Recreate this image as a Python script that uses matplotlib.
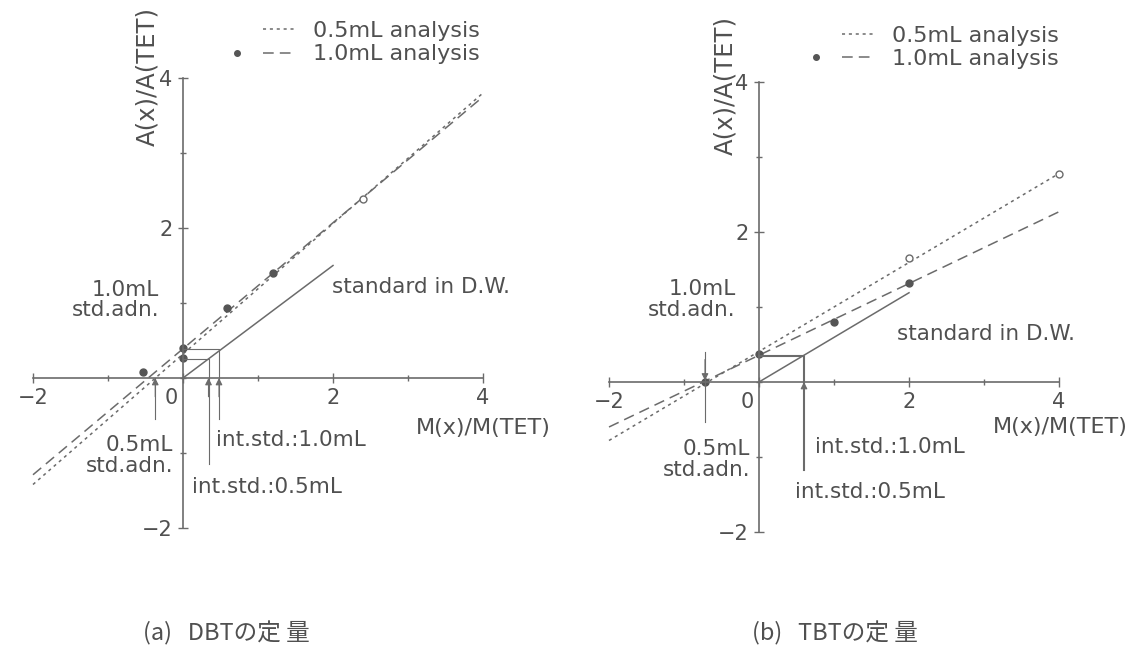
import matplotlib.pyplot as plt
from matplotlib.lines import Line2D
from matplotlib.legend_handler import HandlerTuple
from matplotlib.transforms import ScaledTranslation

plt.rcParams['font.family'] = ['DejaVu Sans', 'Noto Sans CJK JP']

# (a) DBT
a_std_x = [0, 2.0]          # standard in D.W.
a_std_y = [0, 1.50]
a_half_x = [-2, 4]          # 0.5mL analysis
a_half_y = [-1.42, 3.80]
a_full_x = [-2, 4]          # 1.0mL analysis
a_full_y = [-1.29, 3.75]
a_open_x = [2.4]
a_open_y = [2.39]
a_dot_x = [0, 0, 0.59, 1.2, -0.53]
a_dot_y = [0.40, 0.27, 0.93, 1.40, 0.08]
a_adn_x = -0.37
a_int_x = [0.48, 0.34]      # int.std.: 1.0mL, 0.5mL
a_int_y = [0.39, 0.25]
a_int_bot = [-0.55, -1.15]

# (b) TBT
b_std_x = [0, 2.0]
b_std_y = [0, 1.19]
b_half_x = [-2, 4]
b_half_y = [-0.78, 2.78]
b_full_x = [-2, 4]
b_full_y = [-0.60, 2.27]
b_open_x = [2, 4]
b_open_y = [1.65, 2.78]
b_dot_x = [0, 1.0, 2.0, -0.72]
b_dot_y = [0.38, 0.80, 1.32, 0.0]
b_adn_x = -0.72
b_int_x = [0.6]
b_int_y = [0.35]
b_int_bot = [-1.17]

ticks = [-2, 0, 2, 4]
tick_labels = ['\u22122', '0', '2', '4']

LC = '#6b6b6b'
TC = '#505050'
FS = 15.5
DOT = (0, (2, 2.5))
DASH = (0, (7, 4))

fig = plt.figure(figsize=(11.38, 6.56), dpi=100)
W, H = 1138, 656


def make_axes(ox, oy):
    # 75 px per unit on both axes, origin at pixel (ox, oy)
    x0, x1, y0, y1 = -2.2, 4.6, -2.3, 5.0
    left = ox + x0 * 75
    ax = fig.add_axes([left / W, 1 - (oy - y0 * 75) / H,
                       (x1 - x0) * 75 / W, (y1 - y0) * 75 / H])
    ax.set_xlim(x0, x1)
    ax.set_ylim(y0, y1)
    ax.patch.set_alpha(0)
    for s in ['top', 'right']:
        ax.spines[s].set_visible(False)
    for s in ['left', 'bottom']:
        ax.spines[s].set_position('zero')
        ax.spines[s].set_bounds(-2, 4)
        ax.spines[s].set_color(LC)
        ax.spines[s].set_linewidth(1.2)
    ax.set_xticks(ticks)
    ax.set_xticklabels(tick_labels)
    ax.set_xticks([-1, 1, 3], minor=True)
    ax.set_yticks([-2, 2, 4])
    ax.set_yticklabels(['\u22122', '2', '4'])
    ax.set_yticks([-1, 0, 1, 3], minor=True)
    ax.tick_params(which='both', direction='inout', color=LC, labelcolor=TC,
                   labelsize=15, width=1)
    ax.tick_params(which='major', length=7, pad=4)
    ax.tick_params(which='minor', length=5)
    zero = ax.get_xticklabels()[1]
    zero.set_transform(zero.get_transform() + ScaledTranslation(-0.12, 0, fig.dpi_scale_trans))
    return ax


def draw(ax, d, txt):
    ax.plot(d['std_x'], d['std_y'], color=LC, lw=1.1)
    ax.plot(d['half_x'], d['half_y'], color=LC, lw=1.1, ls=DOT)
    ax.plot(d['full_x'], d['full_y'], color=LC, lw=1.1, ls=DASH)
    ax.plot(d['open_x'], d['open_y'], 'o', ms=5, mfc='white', mec=LC, mew=1)
    ax.plot(d['dot_x'], d['dot_y'], 'o', ms=5, color='#555555')
    # internal standard guides
    for xi, yi, yb in zip(d['int_x'], d['int_y'], d['int_bot']):
        ax.plot([0, xi, xi], [yi, yi, yb], color=LC, lw=d['int_lw'])
        ax.annotate('', xy=(xi, 0), xytext=(xi, -0.25),
                    arrowprops=dict(arrowstyle='-|>', color=LC, lw=0.8,
                                    mutation_scale=10, shrinkA=0, shrinkB=0))
    # std. addition intercept marker
    xa = d['adn_x']
    if d['adn_down']:
        ax.plot([xa, xa], [0.40, -0.53], color=LC, lw=0.8)
        ax.annotate('', xy=(xa, 0.02), xytext=(xa, 0.3),
                    arrowprops=dict(arrowstyle='-|>', color=LC, lw=0.8,
                                    mutation_scale=10, shrinkA=0, shrinkB=0))
    else:
        ax.plot([xa, xa], [0, -0.55], color=LC, lw=0.8)
        ax.annotate('', xy=(xa, 0), xytext=(xa, -0.25),
                    arrowprops=dict(arrowstyle='-|>', color=LC, lw=0.8,
                                    mutation_scale=10, shrinkA=0, shrinkB=0))

    kw = dict(color=TC, fontsize=FS)
    ax.text(txt['top_adn'][0], txt['top_adn'][1], '1.0mL\nstd.adn.', ha='right',
            va='center', ma='right', linespacing=1.05, **kw)
    ax.text(txt['bot_adn'][0], txt['bot_adn'][1], '0.5mL\nstd.adn.', ha='right',
            va='center', ma='right', linespacing=1.05, **kw)
    ax.text(*txt['int10'], 'int.std.:1.0mL', ha='left', va='center', **kw)
    ax.text(*txt['int05'], 'int.std.:0.5mL', ha='left', va='center', **kw)
    ax.text(*txt['std'], 'standard in D.W.', ha='left', va='center', **kw)
    ax.text(*txt['xlab'], 'M(x)/M(TET)', ha='left', va='center', color=TC, fontsize=16)
    ax.text(*txt['ylab'], 'A(x)/A(TET)', ha='center', va='center', rotation=90,
            color=TC, fontsize=17.5)

    h1 = (Line2D([], [], ls='none'), Line2D([], [], color=LC, lw=1.1, ls=DOT))
    h2 = (Line2D([], [], marker='o', ls='none', ms=4, color='#555555'),
          Line2D([], [], color=LC, lw=1.1, ls=DASH))
    leg = ax.legend([h1, h2], ['0.5mL analysis', '1.0mL analysis'],
                    handler_map={tuple: HandlerTuple(ndivide=None, pad=0.4)},
                    loc='upper left', bbox_to_anchor=txt['leg'],
                    bbox_transform=ax.transData, frameon=False, fontsize=16,
                    handlelength=3.4, handletextpad=0.75, labelspacing=0.15,
                    borderpad=0, borderaxespad=0)
    for t in leg.get_texts():
        t.set_color(TC)


ax_a = make_axes(183, 378)
draw(ax_a,
     dict(std_x=a_std_x, std_y=a_std_y, half_x=a_half_x, half_y=a_half_y,
          full_x=a_full_x, full_y=a_full_y, open_x=a_open_x, open_y=a_open_y,
          dot_x=a_dot_x, dot_y=a_dot_y, int_x=a_int_x, int_y=a_int_y,
          int_bot=a_int_bot, int_lw=0.8, adn_x=a_adn_x, adn_down=False),
     dict(top_adn=(-0.32, 1.04), bot_adn=(-0.13, -1.03), int10=(0.44, -0.83),
          int05=(0.12, -1.45), std=(1.99, 1.21), xlab=(3.11, -0.67),
          ylab=(-0.47, 4.02), leg=(0.5, 4.76)))

ax_b = make_axes(759, 382)
draw(ax_b,
     dict(std_x=b_std_x, std_y=b_std_y, half_x=b_half_x, half_y=b_half_y,
          full_x=b_full_x, full_y=b_full_y, open_x=b_open_x, open_y=b_open_y,
          dot_x=b_dot_x, dot_y=b_dot_y, int_x=b_int_x, int_y=b_int_y,
          int_bot=b_int_bot, int_lw=1.5, adn_x=b_adn_x, adn_down=True),
     dict(top_adn=(-0.31, 1.10), bot_adn=(-0.12, -1.03), int10=(0.75, -0.87),
          int05=(0.48, -1.46), std=(1.84, 0.64), xlab=(3.12, -0.60),
          ylab=(-0.45, 3.95), leg=(0.54, 4.75)))

fig.text(143 / W, 1 - 633 / H, '(a)   DBTの定 量', color=TC, fontsize=17,
         ha='left', va='center', family=['Noto Sans CJK JP'])
fig.text(752 / W, 1 - 633 / H, '(b)   TBTの定 量', color=TC, fontsize=17,
         ha='left', va='center', family=['Noto Sans CJK JP'])

fig.savefig('out.png', dpi=100)
